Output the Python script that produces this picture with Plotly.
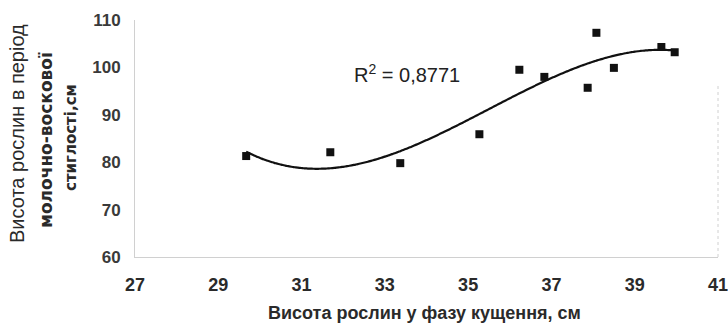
import numpy as np
import plotly.graph_objects as go

# Plant height at tillering (cm) vs height at milk-wax ripeness (cm)
tillering_height = [29.67, 31.69, 33.37, 35.27, 36.23, 36.83, 37.87, 38.08, 38.50, 39.64, 39.96]
ripeness_height = [81.3, 82.1, 79.8, 85.9, 99.5, 98.0, 95.7, 107.3, 99.9, 104.3, 103.2]

x_ticks = [27, 29, 31, 33, 35, 37, 39, 41]
y_ticks = [60, 70, 80, 90, 100, 110]

r2_label = "R<sup>2</sup> = 0,8771"
x_title = "Висота рослин у фазу кущення, см"
y_title_lines = ["Висота рослин в період", "молочно-воскової", "стиглості,см"]

# Third-order polynomial trend line
coef = np.polyfit(tillering_height, ripeness_height, 3)
xs = np.linspace(min(tillering_height), max(tillering_height), 200)
ys = np.polyval(coef, xs)

W, H = 728, 330
M_L, M_R, M_T, M_B = 135, 10, 20, 73
plot_w = W - M_L - M_R
plot_h = H - M_T - M_B

SANS = "Liberation Sans, Arial, sans-serif"
WIDE = "DejaVu Sans, Verdana, sans-serif"

fig = go.Figure()
fig.add_trace(go.Scatter(
    x=xs, y=ys, mode="lines",
    line=dict(color="#111111", width=2.2, shape="spline"),
    hoverinfo="skip", showlegend=False,
))
fig.add_trace(go.Scatter(
    x=tillering_height, y=ripeness_height, mode="markers",
    marker=dict(symbol="square", size=8, color="#111111"),
    showlegend=False,
))

fig.update_xaxes(
    range=[27, 41], tickvals=x_ticks, showgrid=False, zeroline=False,
    showline=True, linecolor="#d0d0d0", linewidth=1, automargin=False,
    tickfont=dict(family=SANS, size=18, color="#2a2a2a", weight="bold"),
    ticks="", ticklabelstandoff=11, ticklabeloverflow="allow",
)
fig.update_yaxes(
    range=[60, 110], tickvals=y_ticks, showgrid=False, zeroline=False,
    showline=True, linecolor="#d0d0d0", linewidth=1, automargin=False,
    tickfont=dict(family=SANS, size=17, color="#3a3a3a", weight="bold"),
    ticks="", ticklabelstandoff=10,
)

# faint right border of the plot area
fig.add_shape(type="line", xref="paper", yref="paper", x0=1, x1=1, y0=0, y1=0.73,
              line=dict(color="#d0d0d0", width=1, dash="dot"))

fig.add_annotation(
    x=(407 - M_L) / plot_w, y=(257 - 73) / plot_h, xref="paper", yref="paper",
    xanchor="center", yanchor="middle", text=r2_label, showarrow=False,
    font=dict(family=SANS, size=20, color="#222222"),
)
fig.add_annotation(
    x=(424 - M_L) / plot_w, y=(257 - 313) / plot_h, xref="paper", yref="paper",
    xanchor="center", yanchor="middle", text=x_title, showarrow=False,
    font=dict(family=SANS, size=18, color="#2a2a2a", weight="bold"),
)

# three-line rotated y-axis title, first line larger
y_title_specs = [
    (17, 20, SANS, "normal", 134),
    (46, 17, WIDE, "bold", 140),
    (71, 15, WIDE, "bold", 138),
]
for line, (px, size, fam, weight, py) in zip(y_title_lines, y_title_specs):
    fig.add_annotation(
        x=(px - M_L) / plot_w, y=(257 - py) / plot_h, xref="paper", yref="paper",
        xanchor="center", yanchor="middle", textangle=-90,
        text=line, showarrow=False,
        font=dict(family=fam, size=size, color="#2a2a2a", weight=weight),
    )

fig.update_layout(
    width=W, height=H,
    margin=dict(l=M_L, r=M_R, t=M_T, b=M_B),
    paper_bgcolor="white", plot_bgcolor="white",
)

fig.write_html("out.html")
